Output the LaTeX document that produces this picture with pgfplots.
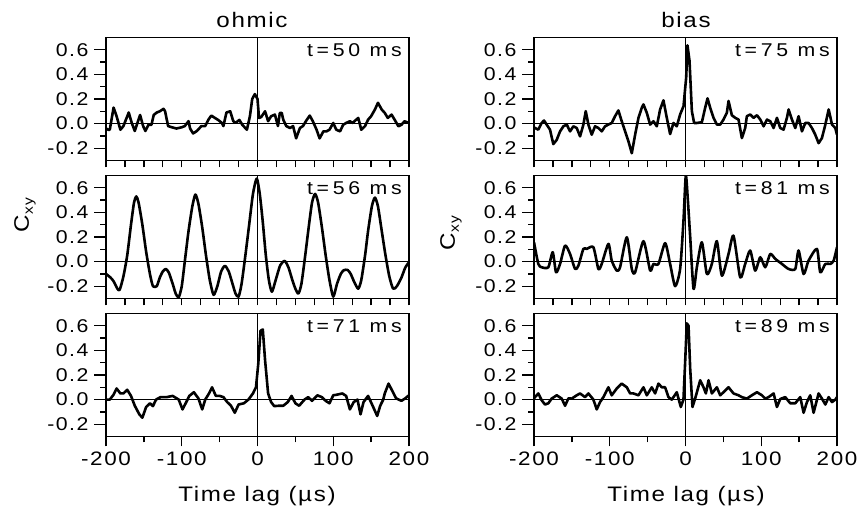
\documentclass[border=0pt]{standalone}
\usepackage{fontspec}
\setmainfont{Liberation Sans}[FakeStretch=1.15, LetterSpace=8]
\newfontfamily\panelfont{Liberation Sans}[FakeStretch=1.15, LetterSpace=20]
\usepackage{pgfplots}
\pgfplotsset{compat=1.18}

\pgfplotsset{
  /pgf/number format/assume math mode=true,
  panel/.style={
    scale only axis, width=303pt, height=123pt,
    xmin=-200, xmax=200, ymin=-0.3, ymax=0.7,
    axis line style={line width=1.7pt},
    tick align=outside, tick pos=left,
    every tick/.style={black, line width=1.3pt},
    major tick length=12pt, minor tick length=6pt,
    ytick={-0.2,0,0.2,0.4,0.6},
    minor ytick={-0.1,0.1,0.3,0.5},
    yticklabel style={font=\fontsize{18.5}{18.5}\selectfont, xshift=-2pt,
      /pgf/number format/.cd, fixed, fixed zerofill, precision=1},
    clip=true,
  },
  upper/.style={panel,
    xtick={-200,-175,...,200}, xticklabels={},
    xtick style={/pgfplots/major tick length=7pt},
  },
  lower/.style={panel,
    xtick={-200,-100,0,100,200},
    minor xtick={-150,-50,50,150},
    xtick style={/pgfplots/major tick length=10pt, /pgfplots/minor tick length=6pt},
    xticklabel style={font=\fontsize{19.5}{19.5}\selectfont},
  },
  curve/.style={black, line width=2.6pt, line join=round},
}
\newcommand{\zerolines}{%
  \draw[line width=0.9pt] (axis cs:-200,0) -- (axis cs:200,0);
  \draw[line width=0.9pt] (axis cs:0,-0.3) -- (axis cs:0,0.7);}
\newcommand{\stamp}[1]{%
  \node[anchor=north east, inner sep=0pt, font=\panelfont\fontsize{18.5}{18.5}\selectfont]
    at (rel axis cs:1,1) [xshift=-7pt, yshift=-6pt] {#1};}

\begin{document}
\begin{tikzpicture}[x=1pt, y=1pt]
\useasboundingbox (0,0) rectangle (857,514);

% ---------------- ohmic ----------------
\begin{axis}[upper, at={(106pt,353.5pt)}, anchor=south west]
\zerolines
\addplot[curve] coordinates {
(-200,-0.04) (-197,-0.05) (-195,-0.05) (-190,0.13) (-186,0.06) (-181,-0.05)
(-177,-0.02) (-170,0.09) (-166,0.005) (-162,-0.06) (-155,0.07) (-151,-0.02)
(-148,-0.06) (-144,-0.01) (-140,-0.01) (-137,0.07) (-133,0.09) (-129,0.10)
(-124,0.12) (-122,0.10) (-118,-0.02) (-113,-0.03) (-107,-0.04) (-100,-0.03)
(-96,-0.02) (-91,0.02) (-89,-0.04) (-85,-0.08) (-80,-0.06) (-74,-0.02)
(-69,-0.02) (-65,0.03) (-61,0.065) (-56,0.045) (-52,0.03) (-47,0.005)
(-45,-0.02) (-41,0.09) (-36,0.10) (-32,0.02) (-29,0.005) (-24,0.03)
(-20,-0.01) (-14,-0.05) (-10,0.06) (-7,0.2) (-3.5,0.24) (0,0.2)
(2,0.045) (5,0.054) (10,0.10) (14,0.02) (18,0.06) (23,0.073) (27,-0.02)
(29.5,0.087) (32,0.087) (34,0.032) (38,-0.02) (43,-0.036) (47,-0.02)
(51,-0.12) (56,-0.036) (60,-0.02) (65,0.03) (69,0.065) (73,0.02) (78,-0.05)
(82,-0.12) (87,-0.063) (91,-0.063) (95,-0.05) (100,0.005) (104,-0.05)
(109,-0.063) (113,-0.01) (117,0.005) (122,0.019) (126,0.005) (128,0.019)
(133,0.046) (137,-0.05) (142,-0.02) (146,0.032) (150,0.06) (155,0.114)
(159,0.169) (164,0.114) (168,0.087) (172,0.046) (177,0.073) (181,0.032)
(186,-0.022) (190,-0.01) (194,0.019) (200,0.005)
};
\stamp{t=50 ms}
\end{axis}

\begin{axis}[upper, at={(106pt,215.5pt)}, anchor=south west]
\zerolines
\addplot[curve, smooth, tension=0.4] coordinates {
(-200,-0.10) (-194,-0.13) (-190,-0.16) (-185,-0.22) (-182,-0.23) (-177,-0.12)
(-172,0.05) (-167,0.30) (-163,0.48) (-160,0.53) (-157,0.48) (-152,0.30)
(-147,0.08) (-142,-0.10) (-138,-0.20) (-133,-0.20) (-129,-0.13) (-125,-0.08)
(-121,-0.06) (-117,-0.09) (-112,-0.18) (-108,-0.26) (-104,-0.29) (-100,-0.20)
(-96,0.0) (-91,0.25) (-86,0.45) (-82,0.545) (-78,0.47) (-73,0.28) (-68,0.05)
(-63,-0.15) (-58,-0.27) (-53,-0.20) (-48,-0.08) (-43,-0.035) (-38,-0.08)
(-33,-0.18) (-29,-0.26) (-25,-0.285) (-21,-0.18) (-16,0.05) (-11,0.30)
(-6,0.55) (-1,0.675) (3,0.55) (7,0.32) (11,0.05) (15,-0.15) (19,-0.245)
(24,-0.15) (30,-0.03) (36,0.005) (41,-0.05) (46,-0.15) (50,-0.22) (54,-0.26)
(58,-0.18) (63,0.05) (68,0.30) (72,0.48) (76,0.55) (80,0.48) (85,0.28)
(90,0.05) (95,-0.15) (100,-0.285) (105,-0.18) (110,-0.10) (114,-0.07)
(119,-0.068) (123,-0.10) (128,-0.17) (133,-0.22) (137,-0.15) (142,0.05)
(146,0.25) (151,0.45) (155,0.52) (159,0.45) (164,0.25) (169,0.05) (174,-0.12)
(179,-0.22) (184,-0.20) (190,-0.13) (195,-0.05) (200,-0.005)
};
\stamp{t=56 ms}
\end{axis}

\begin{axis}[lower, at={(106pt,77.5pt)}, anchor=south west]
\zerolines
\addplot[curve] coordinates {
(-200,0.0) (-195,0.0) (-190,0.04) (-186,0.09) (-181,0.05) (-177,0.05)
(-172,0.08) (-167,0.03) (-162,-0.05) (-156,-0.12) (-152,-0.147) (-147,-0.06)
(-142,-0.03) (-138,-0.053) (-134,0.0) (-128,0.02) (-120,0.02) (-112,0.03)
(-104,0.0) (-99,-0.08) (-94,-0.02) (-90,0.03) (-84,0.06) (-78,0.01)
(-73,-0.08) (-69,0.0) (-64,0.05) (-60,0.10) (-55,0.03) (-50,0.03) (-45,0.02)
(-40,-0.02) (-35,-0.05) (-30,-0.107) (-25,-0.04) (-18,-0.03) (-12,0.0)
(-6,0.05) (-2,0.10) (1,0.29) (4,0.56) (7,0.57) (10,0.32) (14,0.05) (18,-0.02)
(22,-0.053) (28,-0.05) (34,-0.05) (40,-0.02) (45,0.03) (50,-0.03) (55,-0.05)
(62,0.0) (67,0.02) (72,-0.01) (79,0.035) (85,0.02) (90,-0.01) (95,-0.03)
(100,0.035) (105,0.04) (112,0.05) (117,0.03) (122,-0.08) (127,-0.02) (132,0.0)
(136,-0.12) (140,-0.02) (146,0.03) (152,-0.05) (158,-0.133) (162,-0.05)
(166,0.0) (168,0.05) (173,0.13) (178,0.07) (183,0.01) (190,-0.01) (195,0.01)
(200,0.035)
};
\stamp{t=71 ms}
\end{axis}

% ---------------- bias ----------------
\begin{axis}[upper, at={(534pt,353.5pt)}, anchor=south west]
\zerolines
\addplot[curve] coordinates {
(-200,-0.03) (-198.7,-0.036) (-194.3,-0.049) (-189.9,0.005) (-186.8,0.025)
(-183.3,-0.008) (-178.9,-0.049) (-174.5,-0.167) (-170.0,-0.132) (-165.6,-0.063)
(-161.2,-0.022) (-156.8,-0.008) (-152.4,-0.063) (-148.0,-0.022) (-143.6,-0.036)
(-139.2,-0.104) (-134.8,-0.008) (-131.7,0.101) (-128.2,-0.008) (-123.8,-0.090)
(-119.4,-0.022) (-115.0,-0.036) (-110.6,-0.063) (-106.2,-0.022) (-101.8,-0.008)
(-97.4,0.005) (-93.0,0.060) (-88.6,0.107) (-84.2,0.019) (-79.7,-0.063)
(-75.3,-0.145) (-70.9,-0.241) (-66.5,-0.090) (-62.1,0.047) (-57.7,0.129)
(-55.5,0.156) (-51.1,0.088) (-46.7,-0.008) (-42.3,0.019) (-37.9,-0.022)
(-33.5,0.115) (-29.1,0.189) (-24.7,0.047) (-20.3,-0.085) (-15.9,0.005)
(-11.5,-0.022) (-7.1,0.074) (-2.6,0.142) (0.9,0.375) (2.6,0.636) (5.3,0.51)
(8.4,0.101) (11.4,0.005) (15.0,0.005) (21.6,0.011) (26.0,0.129) (29.1,0.205)
(32.6,0.129) (37.0,0.047) (41.4,-0.008) (45.8,-0.008) (50.2,0.033) (54.6,0.088)
(56.8,0.184) (61.2,0.068) (65.6,0.047) (70.0,0.033) (74.4,-0.118) (78.8,-0.036)
(81.0,0.060) (85.4,0.074) (89.9,0.047) (94.3,0.068) (98.7,0.033) (103.1,-0.022)
(107.5,0.033) (111.9,0.019) (116.3,-0.036) (120.7,0.047) (125.1,-0.036)
(129.5,-0.049) (133.9,0.047) (136.1,0.115) (140.5,0.033) (144.9,-0.036)
(149.3,0.060) (153.7,-0.063) (158.1,0.005) (162.5,0.005) (166.9,-0.036)
(171.3,-0.090) (175.7,-0.159) (180.1,-0.118) (184.6,-0.008) (189.0,0.115)
(193.4,-0.008) (197.8,-0.036) (200,-0.09)
};
\stamp{t=75 ms}
\end{axis}

\begin{axis}[upper, at={(534pt,215.5pt)}, anchor=south west]
\zerolines
\addplot[curve, smooth, tension=0.4] coordinates {
(-200,0.157) (-194.3,-0.019) (-189.9,-0.046) (-181.1,-0.046) (-175.3,0.076)
(-170.9,-0.087) (-165.6,-0.019) (-159.0,0.130) (-152.4,0.062) (-145.8,-0.060)
(-141.4,-0.033) (-134.8,0.103) (-130.4,0.103) (-121.6,0.117) (-115.0,-0.060)
(-110.6,-0.019) (-101.8,0.144) (-97.4,0.008) (-90.8,-0.073) (-86.4,-0.046)
(-77.5,0.198) (-70.9,-0.060) (-66.5,-0.087) (-55.5,0.166) (-46.7,-0.073)
(-42.3,-0.019) (-35.7,-0.019) (-26.9,0.150) (-20.3,-0.019) (-13.7,-0.20)
(-7.1,-0.06) (-2.7,0.33) (0.4,0.70) (3.1,0.50) (6.2,0.20) (10.6,-0.22)
(15.0,-0.046) (21.6,0.157) (28.2,-0.101) (34.8,-0.019) (41.4,0.166)
(48.0,-0.114) (56.8,0.062) (63.4,0.21) (72.2,-0.128) (78.8,-0.019) (85.4,0.090)
(92.0,-0.073) (98.7,0.035) (105.3,-0.046) (111.9,0.062) (118.5,0.022)
(127.3,-0.019) (136.1,-0.060) (144.9,-0.060) (149.3,0.090) (155.9,-0.101)
(162.5,0.008) (173.5,0.103) (177.9,-0.087) (184.6,-0.019) (191.2,-0.019)
(195.6,0.008) (200,0.117)
};
\stamp{t=81 ms}
\end{axis}

\begin{axis}[lower, at={(534pt,77.5pt)}, anchor=south west]
\zerolines
\addplot[curve] coordinates {
(-200,0.01) (-198.7,0.02) (-194.3,0.05) (-189.9,-0.005) (-185.5,-0.04)
(-181.1,-0.03) (-176.7,0.008) (-170.0,0.035) (-163.4,0.008) (-159.0,-0.05)
(-154.6,0.01) (-150.2,0.008) (-143.6,0.035) (-139.2,0.05) (-132.6,0.02)
(-128.2,0.05) (-121.6,0.0) (-117.2,-0.08) (-112.8,-0.02) (-108.4,0.02)
(-101.8,0.10) (-97.4,0.035) (-90.8,0.09) (-84.2,0.13) (-77.5,0.10) (-73.1,0.05)
(-68.7,0.05) (-62.1,0.035) (-55.5,0.10) (-51.1,0.035) (-44.5,0.10) (-40.1,0.05)
(-35.7,0.13) (-31.3,0.10) (-26.9,0.10) (-22.5,0.02) (-18.1,0.0) (-11.5,0.06)
(-6.2,-0.06) (-2.7,0.0) (-0.5,0.3) (1.7,0.62) (4.0,0.6) (6.2,0.25) (9.2,-0.06)
(12.8,0.01) (19.4,0.157) (23.8,0.10) (26.9,0.05) (30.4,0.157) (34.8,0.05)
(41.4,0.10) (45.8,0.035) (50.2,0.06) (56.8,0.10) (63.4,0.05) (70.0,0.035)
(74.4,0.02) (81.0,0.008) (87.6,0.035) (94.3,0.06) (100.9,0.035) (105.3,0.008)
(109.7,0.02) (116.3,0.05) (120.7,-0.06) (125.1,0.005) (131.7,0.02)
(138.3,-0.03) (144.9,-0.03) (151.5,0.02) (155.9,-0.107) (160.3,-0.02)
(164.7,0.035) (169.1,-0.107) (175.7,0.05) (180.1,0.008) (184.6,-0.04)
(189.0,0.02) (193.4,-0.02) (197.8,0.0) (200,0.02)
};
\stamp{t=89 ms}
\end{axis}

% titles and axis names
\node[anchor=base, font=\fontsize{21}{21}\selectfont] at (252,486) {ohmic};
\node[anchor=base, font=\fontsize{21}{21}\selectfont] at (686,486) {bias};
\node[anchor=base, font=\fontsize{21}{21}\selectfont] at (257,12.3) {Time lag (µs)};
\node[anchor=base, font=\fontsize{21}{21}\selectfont] at (686,12.3) {Time lag (µs)};
\node[rotate=90, font=\fontsize{21}{21}\selectfont] at (25,299)
  {C\raisebox{-0.35ex}{\fontsize{13.5}{13.5}\selectfont xy}};
\node[rotate=90, font=\fontsize{21}{21}\selectfont] at (451,281)
  {C\raisebox{-0.35ex}{\fontsize{13.5}{13.5}\selectfont xy}};
\end{tikzpicture}
\end{document}
